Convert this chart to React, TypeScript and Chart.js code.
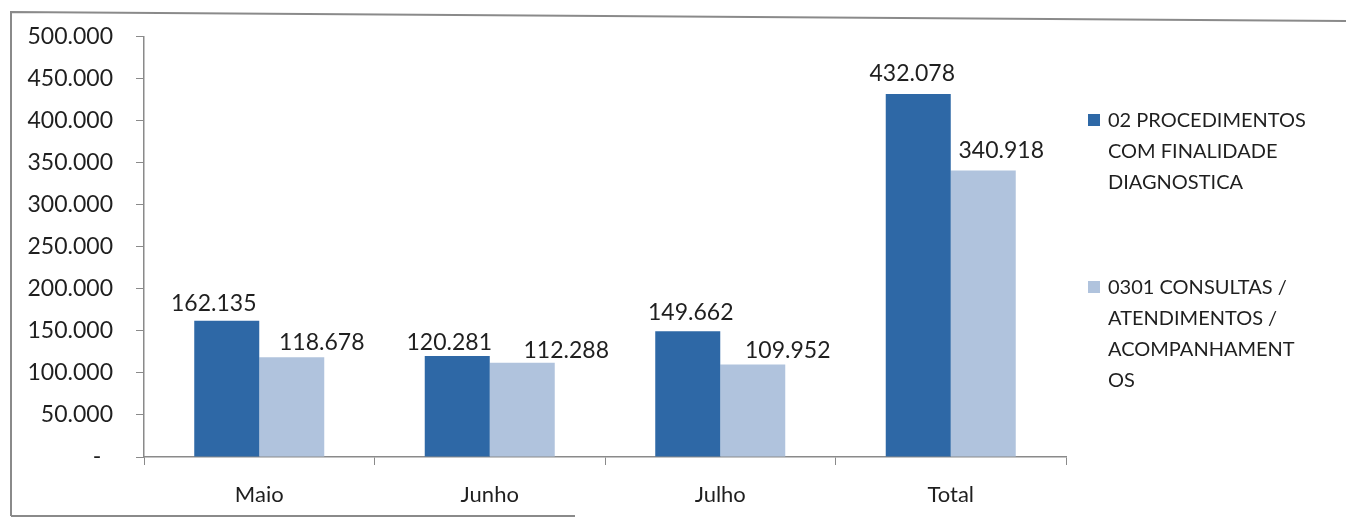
import React, { useEffect, useRef } from "react";
import { Chart, registerables } from "chart.js";

Chart.register(...registerables);

const categories = ["Maio", "Junho", "Julho", "Total"];
const seriesNames = [
  "02 PROCEDIMENTOS COM FINALIDADE DIAGNOSTICA",
  "0301 CONSULTAS / ATENDIMENTOS / ACOMPANHAMENTOS",
];
const procedimentos = [162135, 120281, 149662, 432078];
const consultas = [118678, 112288, 109952, 340918];
const legendLines = [
  ["02 PROCEDIMENTOS", "COM FINALIDADE", "DIAGNOSTICA"],
  ["0301 CONSULTAS /", "ATENDIMENTOS /", "ACOMPANHAMENT", "OS"],
];
const yMin = 0;
const yMax = 500000;
const yStep = 50000;

const DARK = "#2e68a6";
const LIGHT = "#b0c3dd";
const TEXT = "#1f1f1f";
const FONT = "Lato, 'Open Sans', sans-serif";

// manual nudges of the data labels (dx, dy from bar top), as placed in the original
const labelNudges = [
  [[-13, -17], [-8, -13], [3, -19], [-6, -20]],
  [[30, -15], [44, -12], [35, -14], [18, -20]],
];

function fmt(v: number): string {
  if (v === 0) return "-  ";
  return String(Math.round(v)).replace(/\B(?=(\d{3})+(?!\d))/g, ".");
}

const framePlugin = {
  id: "frame",
  beforeDraw(chart: any) {
    const ctx = chart.ctx;
    ctx.save();
    ctx.fillStyle = "#ffffff";
    ctx.fillRect(0, 0, chart.width, chart.height);
    ctx.strokeStyle = "#8a8a8a";
    ctx.lineWidth = 2;
    ctx.beginPath();
    ctx.moveTo(11, 516);
    ctx.lineTo(11, 12);
    ctx.lineTo(chart.width, 21);
    ctx.stroke();
    ctx.beginPath();
    ctx.moveTo(11, 516);
    ctx.lineTo(575, 516);
    ctx.stroke();
    ctx.restore();
  },
};

const valueLabelPlugin = {
  id: "valueLabels",
  afterDatasetsDraw(chart: any) {
    const ctx = chart.ctx;
    ctx.save();
    ctx.font = `23px ${FONT}`;
    ctx.fillStyle = TEXT;
    ctx.textAlign = "center";
    ctx.textBaseline = "middle";
    chart.data.datasets.forEach((ds: any, di: number) => {
      const meta = chart.getDatasetMeta(di);
      meta.data.forEach((bar: any, i: number) => {
        const n = labelNudges[di][i];
        ctx.fillText(fmt(ds.data[i]), bar.x + n[0], bar.y + n[1]);
      });
    });
    ctx.restore();
  },
};

const legendPlugin = {
  id: "sideLegend",
  afterDraw(chart: any) {
    const ctx = chart.ctx;
    const area = chart.chartArea;
    const x0 = area.right + 22;
    const starts = [121, 288];
    const lh = 31;
    ctx.save();
    ctx.font = `20px ${FONT}`;
    ctx.textAlign = "left";
    ctx.textBaseline = "middle";
    chart.data.datasets.forEach((ds: any, di: number) => {
      const y = starts[di];
      ctx.fillStyle = ds.backgroundColor;
      ctx.fillRect(x0, y - 7, 12, 12);
      ctx.fillStyle = TEXT;
      legendLines[di].forEach((line, li) => {
        ctx.fillText(line, x0 + 20, y + li * lh);
      });
    });
    ctx.restore();
  },
};

export default function App() {
  const ref = useRef<HTMLCanvasElement | null>(null);
  useEffect(() => {
    if (!ref.current) return;
    const chart = new Chart(ref.current, {
      type: "bar",
      data: {
        labels: categories,
        datasets: [
          { label: seriesNames[0], data: procedimentos, backgroundColor: DARK, borderWidth: 0 },
          { label: seriesNames[1], data: consultas, backgroundColor: LIGHT, borderWidth: 0 },
        ],
      },
      options: {
        animation: false,
        responsive: false,
        maintainAspectRatio: false,
        devicePixelRatio: 1,
        layout: { padding: { top: 35, right: 280, bottom: 0, left: 0 } },
        datasets: { bar: { categoryPercentage: 0.564, barPercentage: 1.0 } },
        plugins: {
          legend: { display: false },
          tooltip: { enabled: false },
          title: { display: false },
        },
        scales: {
          x: {
            afterFit: (s: any) => { s.height = 62; },
            grid: {
              display: true,
              offset: true,
              drawOnChartArea: false,
              drawTicks: true,
              tickLength: 8,
              color: "#8a8a8a",
            },
            border: { display: true, color: "#8a8a8a", width: 1.5 },
            ticks: {
              color: TEXT,
              font: { family: FONT, size: 22 },
              padding: 17,
              maxRotation: 0,
            },
          },
          y: {
            min: yMin,
            max: yMax,
            afterFit: (s: any) => { s.width = 144; },
            grid: {
              display: true,
              drawOnChartArea: false,
              drawTicks: true,
              tickLength: 8,
              color: "#8a8a8a",
            },
            border: { display: true, color: "#8a8a8a", width: 1.5 },
            ticks: {
              stepSize: yStep,
              color: TEXT,
              font: { family: FONT, size: 23 },
              padding: 23,
              callback: (v: any) => fmt(Number(v)),
            },
          },
        },
      },
      plugins: [framePlugin, valueLabelPlugin, legendPlugin],
    });
    return () => chart.destroy();
  }, []);
  return (
    <div style={{ position: "absolute", left: 0, top: 0, width: 1346, height: 519, overflow: "hidden", background: "#fff" }}>
      <canvas ref={ref} width={1346} height={519} style={{ display: "block", width: 1346, height: 519 }} />
    </div>
  );
}
